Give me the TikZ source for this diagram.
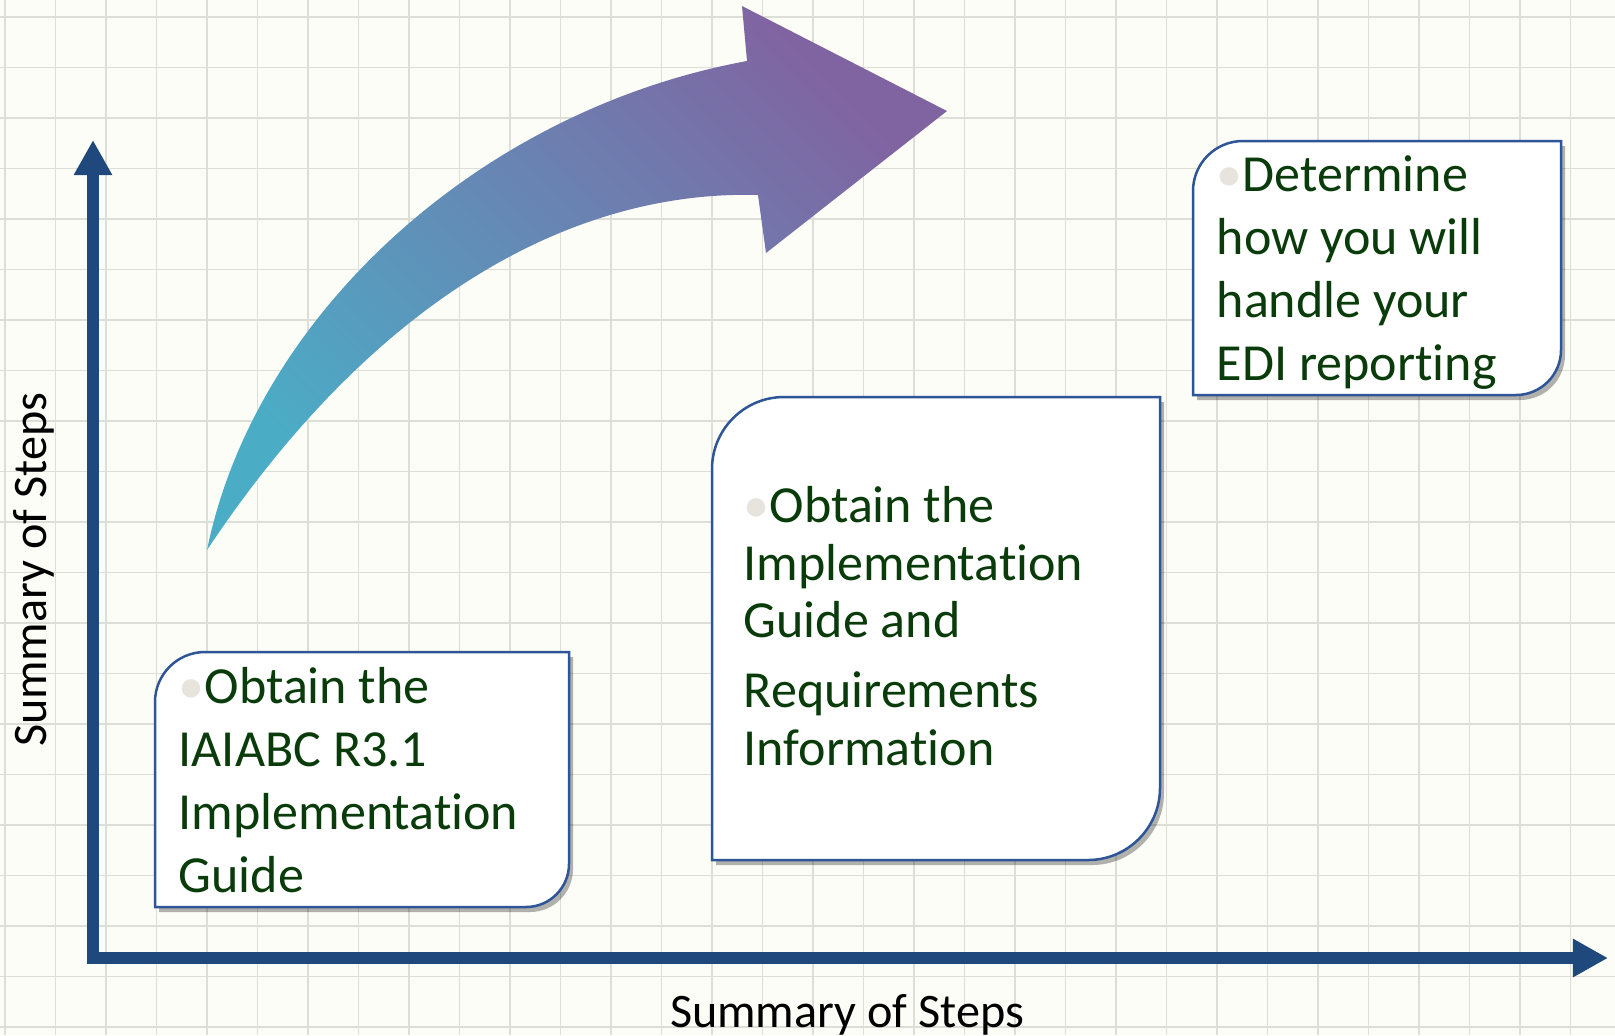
\documentclass[tikz,border=0pt]{standalone}
\usepackage{fontspec}
\setmainfont{Carlito}[Ligatures=NoCommon]
\usetikzlibrary{arrows.meta, shadows}

\definecolor{paper}{HTML}{FDFDF8}
\definecolor{gridline}{HTML}{DEDED8}
\definecolor{axisblue}{HTML}{1F497D}
\definecolor{cardblue}{HTML}{2E5597}
\definecolor{stepgreen}{HTML}{0A3B0A}
\definecolor{dotgray}{HTML}{E6E4DC}
\definecolor{arrowteal}{HTML}{4BACC6}
\definecolor{arrowpurple}{HTML}{8064A2}

\tikzset{
	card/.style={draw=cardblue, line width=0.025cm, fill=white, drop shadow={shadow xshift=0.04cm, shadow yshift=-0.05cm, opacity=0.3, fill=black}},
	steptext/.style={anchor=base west, inner sep=0pt, align=left, text=stepgreen, font=\fontsize{14.8}{17.9}\selectfont},
	axislabel/.style={anchor=base, inner sep=0pt, font=\fontsize{13.7}{16}\selectfont}
}
\newcommand{\dotmark}{\textcolor{dotgray}{\textbullet}}

\begin{document}
\begin{tikzpicture}[x=0.01cm, y=-0.01cm]
		\fill[paper] (0,0) rectangle (1615,1035);
		\useasboundingbox (0,0) rectangle (1615,1035);
		
		\foreach \gx in {0,...,31} \draw[gridline, line width=0.015cm] ({5+50.5*\gx},0) -- ({5+50.5*\gx},1035);
		\foreach \gy in {0,...,20} \draw[gridline, line width=0.015cm] (0,{17+50.5*\gy}) -- (1615,{17+50.5*\gy});
		
		\coordinate (origin) at (93,958);
		\coordinate (ytip) at (93,140);
		\coordinate (xtip) at (1608,958);
		\draw[axisblue, line width=0.12cm, line join=miter, {Triangle[length=0.35cm,width=0.36cm]}-{Triangle[length=0.35cm,width=0.36cm]}] (ytip) -- (origin) -- (xtip);
		
		\node[axislabel, rotate=90] (ylabel) at (47,570) {Summary of Steps};
		\node[axislabel] (xlabel) at (847,1027) {Summary of Steps};
		
		\shade[bottom color=arrowteal, top color=arrowpurple, shading angle=-45] (207,550) .. controls (255,315) and (480,110) .. (747,61) -- (742,6) -- (947,111) -- (766,253) -- (758,195) .. controls (580,190) and (380,290) .. (207,550) -- cycle;
		
		\filldraw[card] (155,907) -- (155,702) .. controls (155,674.4) and (177.4,652) .. (205,652) -- (569,652) -- (569,864) .. controls (569,887.7) and (549.7,907) .. (526,907) -- cycle;
		\filldraw[card] (712,860) -- (712,469) .. controls (712,429.3) and (744.3,397) .. (784,397) -- (1160,397) -- (1160,788) .. controls (1160,827.7) and (1127.7,860) .. (1088,860) -- cycle;
		\filldraw[card] (1193,395) -- (1193,191) .. controls (1193,163.4) and (1215.4,141) .. (1243,141) -- (1561,141) -- (1561,350) .. controls (1561,374.8) and (1540.8,395) .. (1516,395) -- cycle;
		
		% base anchor sits on the last line
		\node[steptext] (guide) at (178,892) {\dotmark Obtain the\\IAIABC R3.1\\Implementation\\Guide};
		\node[steptext, font=\fontsize{14.8}{16.4}\selectfont] (require) at (743,765) {\dotmark Obtain the\\Implementation\\Guide and\\[3.4pt]Requirements\\Information};
		\node[steptext] (report) at (1216,380) {\dotmark Determine\\how you will\\handle your\\EDI reporting};
	\end{tikzpicture}
\end{document}
